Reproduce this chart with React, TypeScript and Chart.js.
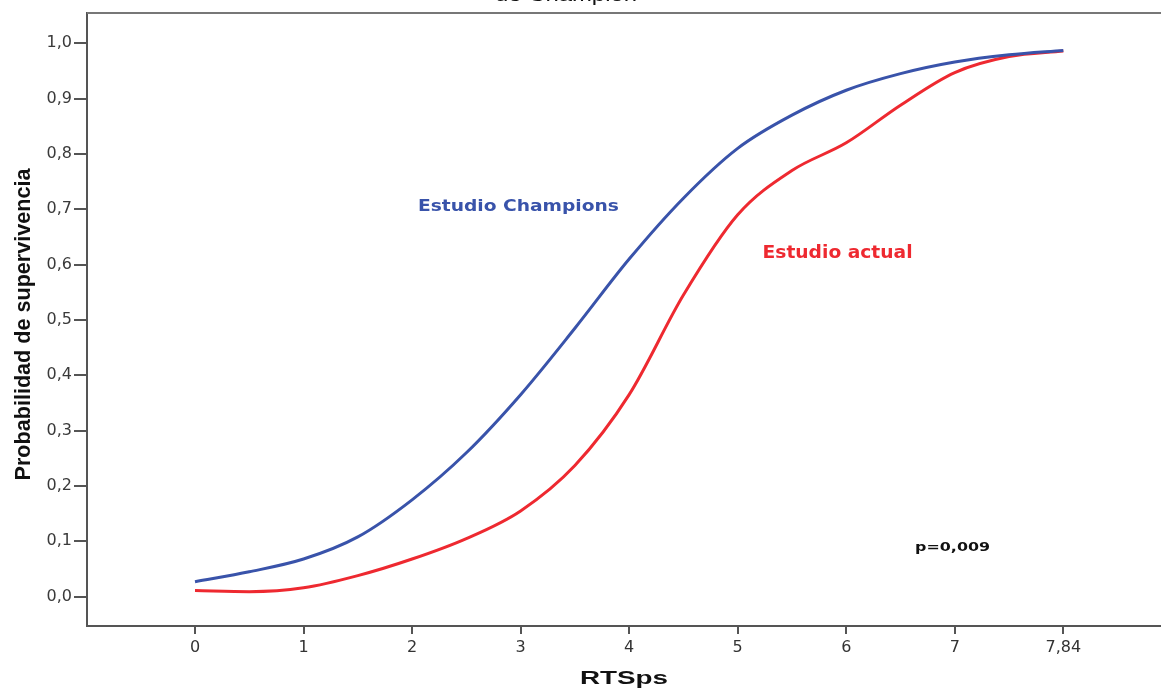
import React, { useEffect, useRef } from "react";
import { Chart, registerables } from "chart.js";

Chart.register(...registerables);

// x positions along the RTSps axis (last tick is labelled 7,84)
const xValues = [0, 0.5, 1, 1.5, 2, 2.5, 3, 3.5, 4, 4.5, 5, 5.5, 6, 6.5, 7, 7.5, 8];
const champions = [0.027, 0.045, 0.068, 0.108, 0.175, 0.26, 0.365, 0.485, 0.61, 0.72, 0.81, 0.87, 0.915, 0.945, 0.966, 0.979, 0.987];
const actual = [0.011, 0.009, 0.016, 0.038, 0.068, 0.105, 0.155, 0.237, 0.365, 0.545, 0.69, 0.77, 0.82, 0.888, 0.947, 0.976, 0.986];
const xTickValues = [0, 1, 2, 3, 4, 5, 6, 7, 8];
const xTickLabels = ["0", "1", "2", "3", "4", "5", "6", "7", "7,84"];
const yTickValues = [0, 0.1, 0.2, 0.3, 0.4, 0.5, 0.6, 0.7, 0.8, 0.9, 1.0];
const yTickLabels = ["0,0", "0,1", "0,2", "0,3", "0,4", "0,5", "0,6", "0,7", "0,8", "0,9", "1,0"];

const BLUE = "#3953aa";
const RED = "#ee2930";
const AXIS = "#555555";

function fitText(
  ctx: CanvasRenderingContext2D,
  text: string,
  cx: number,
  cy: number,
  font: string,
  color: string,
  targetW: number,
  rotate = false
) {
  ctx.save();
  ctx.font = font;
  const w = ctx.measureText(text).width;
  ctx.translate(cx, cy);
  if (rotate) ctx.rotate(-Math.PI / 2);
  ctx.scale(targetW / w, 1);
  ctx.textAlign = "center";
  ctx.textBaseline = "middle";
  ctx.fillStyle = color;
  ctx.fillText(text, 0, 0);
  ctx.restore();
}

const textPlugin = {
  id: "textPlugin",
  afterDraw(chart: any) {
    const ctx = chart.ctx as CanvasRenderingContext2D;
    const xs = chart.scales.x;
    const ys = chart.scales.y;
    const area = chart.chartArea;
    // top border of the plot box
    ctx.save();
    ctx.strokeStyle = "#777777";
    ctx.lineWidth = 2;
    ctx.beginPath();
    ctx.moveTo(area.left, area.top);
    ctx.lineTo(chart.width, area.top);
    ctx.stroke();
    ctx.restore();

    // cut-off title
    ctx.save();
    ctx.font = "18px 'Liberation Sans', Arial, sans-serif";
    const tw = ctx.measureText("de Champion").width;
    ctx.translate(566, 1);
    ctx.scale(142 / tw, 1);
    ctx.textAlign = "center";
    ctx.textBaseline = "alphabetic";
    ctx.fillStyle = "#111111";
    ctx.fillText("de Champion", 0, 0);
    ctx.restore();

    fitText(ctx, "Estudio Champions", xs.getPixelForValue(2.98), ys.getPixelForValue(0.704),
      "bold 16px 'DejaVu Sans', sans-serif", BLUE, 201);
    fitText(ctx, "Estudio actual", xs.getPixelForValue(5.92), ys.getPixelForValue(0.621),
      "bold 18px 'DejaVu Sans', sans-serif", RED, 150);
    fitText(ctx, "p=0,009", xs.getPixelForValue(6.98), ys.getPixelForValue(0.0895),
      "bold 13px 'DejaVu Sans', sans-serif", "#111111", 75);

    // axis titles
    fitText(ctx, "RTSps", (area.left + area.right) / 2 + 0, 679,
      "bold 19px 'Liberation Sans', Arial, sans-serif", "#111111", 88);
    fitText(ctx, "Probabilidad de supervivencia", 24, (area.top + area.bottom) / 2 + 5,
      "bold 22px 'Liberation Sans Narrow', 'Liberation Sans', Arial, sans-serif", "#111111", 312, true);
  },
};

export default function App() {
  const ref = useRef<HTMLCanvasElement | null>(null);

  useEffect(() => {
    if (!ref.current) return;
    const chart = new Chart(ref.current, {
      type: "line",
      data: {
        datasets: [
          {
            label: "Estudio Champions",
            data: xValues.map((x, i) => ({ x, y: champions[i] })),
            borderColor: BLUE,
            borderWidth: 3,
            pointRadius: 0,
            cubicInterpolationMode: "monotone",
            fill: false,
          },
          {
            label: "Estudio actual",
            data: xValues.map((x, i) => ({ x, y: actual[i] })),
            borderColor: RED,
            borderWidth: 3,
            pointRadius: 0,
            cubicInterpolationMode: "monotone",
            fill: false,
          },
        ],
      },
      options: {
        animation: false,
        responsive: true,
        maintainAspectRatio: false,
        layout: { padding: { top: 13, left: 0, right: 0, bottom: 0 } },
        plugins: {
          legend: { display: false },
          tooltip: { enabled: false },
          title: { display: false },
        },
        scales: {
          x: {
            type: "linear",
            min: -0.995,
            max: 8.9,
            afterBuildTicks: (scale: any) => {
              scale.ticks = xTickValues.map((v) => ({ value: v }));
            },
            afterFit: (scale: any) => {
              scale.height = 67;
            },
            ticks: {
              autoSkip: false,
              maxRotation: 0,
              padding: 4,
              color: "#333333",
              font: { family: "'DejaVu Sans', sans-serif", size: 16 },
              callback: (value: any) => {
                const i = xTickValues.indexOf(Number(value));
                return i >= 0 ? xTickLabels[i] : "";
              },
            },
            grid: {
              drawOnChartArea: false,
              drawTicks: true,
              tickLength: 8,
              color: AXIS,
              lineWidth: 2,
            },
            border: { display: true, color: AXIS, width: 2 },
          },
          y: {
            type: "linear",
            min: -0.053,
            max: 1.0546,
            afterBuildTicks: (scale: any) => {
              scale.ticks = yTickValues.map((v) => ({ value: v }));
            },
            afterFit: (scale: any) => {
              scale.width = 87;
            },
            ticks: {
              autoSkip: false,
              padding: 2,
              color: "#3a3a3a",
              font: { family: "'DejaVu Sans', sans-serif", size: 16 },
              callback: (value: any) => {
                const i = yTickValues.findIndex((v) => Math.abs(v - Number(value)) < 1e-6);
                return i >= 0 ? yTickLabels[i] : "";
              },
            },
            grid: {
              drawOnChartArea: false,
              drawTicks: true,
              tickLength: 13,
              color: AXIS,
              lineWidth: 2,
            },
            border: { display: true, color: AXIS, width: 2 },
          },
        },
      },
      plugins: [textPlugin],
    });
    return () => chart.destroy();
  }, []);

  return (
    <div style={{ position: "absolute", left: 0, top: 0, width: 1161, height: 693, background: "#ffffff" }}>
      <canvas ref={ref} />
    </div>
  );
}
